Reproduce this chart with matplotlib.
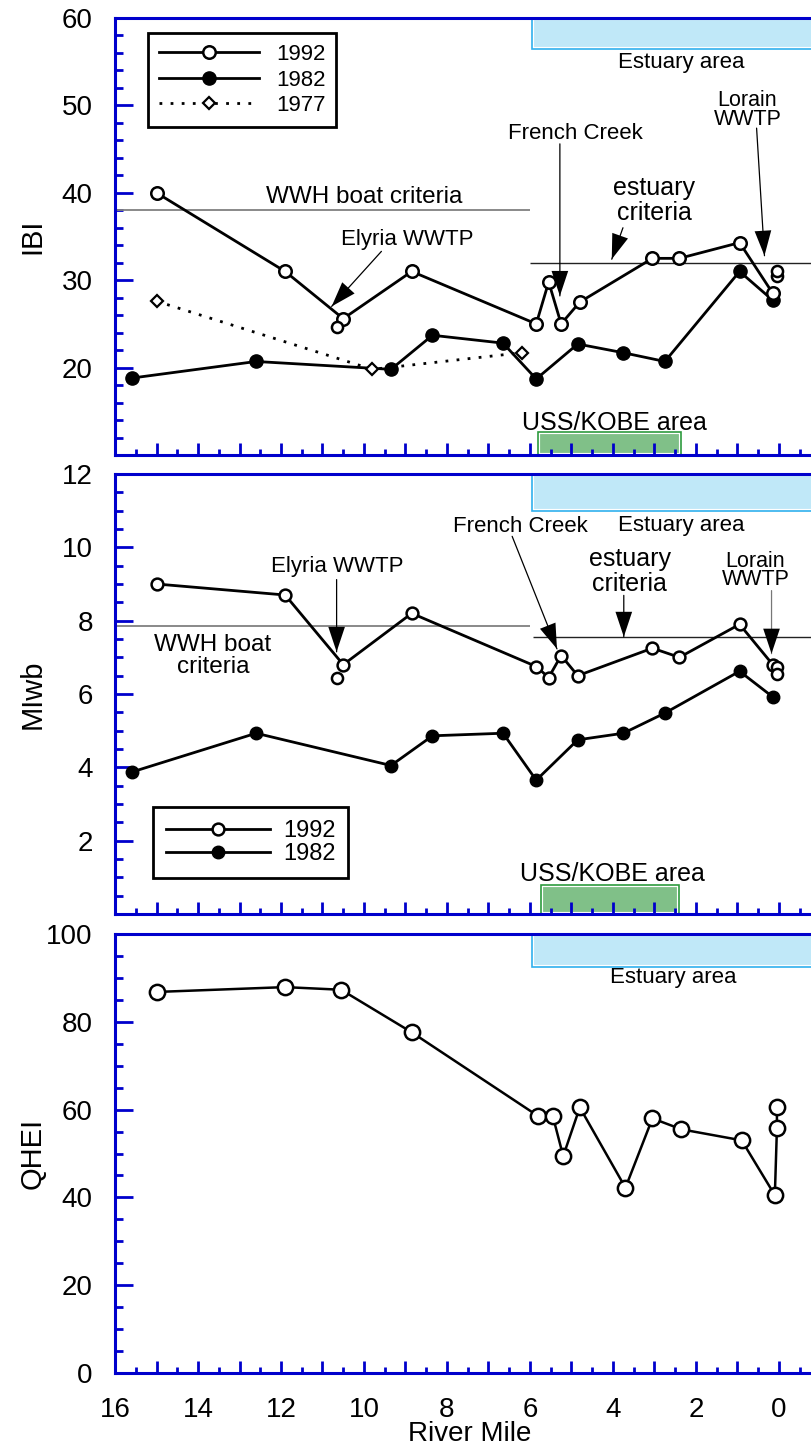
import matplotlib
matplotlib.use("Agg")
import matplotlib.pyplot as plt
from matplotlib.patches import Rectangle
from matplotlib.ticker import MultipleLocator, FuncFormatter

plt.rcParams["font.family"] = ["Liberation Sans", "DejaVu Sans"]

# ---------------- data ----------------
# IBI
ibi92_mile = [15.0, 11.9, 10.5, 8.85, 5.85, 5.55, 5.25, 4.8, 3.05, 2.4, 0.95, 0.15]
ibi92_val = [40.0, 31.0, 25.6, 31.0, 25.0, 29.8, 25.0, 27.5, 32.5, 32.5, 34.3, 28.5]
ibi92_rep_mile = [10.65, 0.05, 0.05]
ibi92_rep_val = [24.6, 30.5, 31.0]
ibi82_mile = [15.6, 12.6, 9.35, 8.35, 6.65, 5.85, 4.85, 3.75, 2.75, 0.95, 0.15]
ibi82_val = [18.8, 20.7, 19.8, 23.7, 22.8, 18.7, 22.7, 21.7, 20.7, 31.0, 27.7]
ibi77_mile = [15.0, 9.8, 6.2]
ibi77_val = [27.6, 19.8, 21.7]

# MIwb
mi92_mile = [15.0, 11.9, 10.5, 8.85, 5.85, 5.55, 5.25, 4.85, 3.05, 2.4, 0.95, 0.15]
mi92_val = [9.0, 8.7, 6.8, 8.2, 6.75, 6.45, 7.05, 6.5, 7.25, 7.0, 7.9, 6.8]
mi92_rep_mile = [10.65, 0.05, 0.05]
mi92_rep_val = [6.45, 6.75, 6.55]
mi82_mile = [15.6, 12.6, 9.35, 8.35, 6.65, 5.85, 4.85, 3.75, 2.75, 0.95, 0.15]
mi82_val = [3.87, 4.93, 4.05, 4.86, 4.93, 3.65, 4.75, 4.93, 5.48, 6.62, 5.92]

# QHEI
qhei_mile = [15.0, 11.9, 10.55, 8.85, 5.8, 5.45, 5.2, 4.8, 3.7, 3.05, 2.35, 0.9, 0.1, 0.05, 0.05]
qhei_val = [86.8, 87.9, 87.3, 77.6, 58.5, 58.5, 49.4, 60.5, 42.2, 58.0, 55.5, 53.0, 40.5, 55.7, 60.6]

# criteria
ibi_wwh_boat = 38.0
ibi_estuary = 32.0
mi_wwh_boat = 7.85
mi_estuary = 7.55

# reaches (river miles)
estuary_reach = (5.95, -1.5)
usskobe_reach_ibi = (5.8, 2.37)
usskobe_reach_mi = (5.73, 2.42)

BLUE = "#0000CC"
XMIN, XMAX = 16, -1.5

fig = plt.figure(figsize=(8.12, 14.52), dpi=100)
W, H = 812, 1452
left = 115 / W
width = (XMIN - XMAX) * 41.5 / W


def axes_px(top, bottom):
    return fig.add_axes([left, (H - bottom) / H, width, (bottom - top) / H])


ax1 = axes_px(18, 455)
ax2 = axes_px(474, 914)
ax3 = axes_px(934, 1373)


def style(ax, ylo, yhi, ymaj, ymin, show_x, show_ylo):
    ax.set_xlim(XMIN, XMAX)
    ax.set_ylim(ylo, yhi)
    ax.yaxis.set_major_locator(MultipleLocator(ymaj))
    ax.yaxis.set_minor_locator(MultipleLocator(ymin))
    ax.yaxis.set_major_formatter(
        FuncFormatter(lambda v, p: "" if (abs(v - ylo) < 1e-9 and not show_ylo)
                      else f"{v:g}"))
    ax.xaxis.set_major_locator(MultipleLocator(1))
    ax.xaxis.set_minor_locator(MultipleLocator(0.5))
    ax.xaxis.set_major_formatter(
        FuncFormatter(lambda v, p: f"{int(round(v))}" if int(round(v)) % 2 == 0 else ""))
    for s in ["left", "bottom", "top"]:
        ax.spines[s].set_color(BLUE)
        ax.spines[s].set_linewidth(2.2)
    ax.spines["right"].set_visible(False)
    ax.tick_params(axis="both", which="both", direction="in", color=BLUE, width=2,
                   top=False, right=False, labelsize=20)
    ax.tick_params(axis="y", which="major", length=13, pad=16)
    ax.tick_params(axis="y", which="minor", length=6)
    ax.tick_params(axis="x", which="major", length=9, pad=17)
    ax.tick_params(axis="x", which="minor", length=4)
    if not show_x:
        ax.tick_params(axis="x", labelbottom=False)


def band(ax, x0, x1, y0, y1, fill, edge):
    ax.add_patch(Rectangle((x1, y0), x0 - x1, y1 - y0, facecolor=fill,
                           edgecolor="white", lw=3, zorder=1))
    ax.add_patch(Rectangle((x1, y0), x0 - x1, y1 - y0, facecolor="none",
                           edgecolor=edge, lw=1.2, zorder=1.1))


EST_FILL, EST_EDGE = "#C0E8F8", "#30B0EE"
USS_FILL, USS_EDGE = "#80C088", "#2E9B3E"
ANN = 16


def arrow(ax, tail, head, shaft="black"):
    ax.annotate("", xy=head, xytext=tail,
                arrowprops=dict(arrowstyle="-", lw=0.9, color=shaft,
                                shrinkA=0, shrinkB=0))
    ax.annotate("", xy=head, xytext=tail,
                arrowprops=dict(arrowstyle="-|>,head_length=0.9,head_width=0.3",
                                mutation_scale=20, lw=0.0, color="black",
                                shrinkA=0, shrinkB=0))


open_kw = dict(marker="o", mfc="white", mec="black", mew=1.8, color="black", lw=2)
open_pt = dict(marker="o", mfc="white", mec="black", mew=1.8, ls="none")
fill_kw = dict(marker="o", mfc="black", mec="black", color="black", lw=2)

# ---------------- IBI ----------------
style(ax1, 10, 60, 10, 2, False, False)
band(ax1, estuary_reach[0], estuary_reach[1], 56.5, 60, EST_FILL, EST_EDGE)
band(ax1, usskobe_reach_ibi[0], usskobe_reach_ibi[1], 10, 12.6, USS_FILL, USS_EDGE)
ax1.hlines(ibi_wwh_boat, XMIN, 6.0, color="#808080", lw=1.3, zorder=2)
ax1.hlines(ibi_estuary, 6.0, XMAX, color="#222222", lw=1.0, zorder=2)
l92, = ax1.plot(ibi92_mile, ibi92_val, ms=9, label="1992", zorder=4, **open_kw)
ax1.plot(ibi92_rep_mile, ibi92_rep_val, ms=8, zorder=4, **open_pt)
l82, = ax1.plot(ibi82_mile, ibi82_val, ms=9.5, label="1982", zorder=3, **fill_kw)
l77, = ax1.plot(ibi77_mile, ibi77_val, color="black", lw=2, ls=(0, (1, 3)),
                marker="D", ms=6.5, mfc="white", mec="black", mew=1.6, label="1977", zorder=3)
ax1.set_ylabel("IBI", fontsize=21)
ax1.yaxis.set_label_coords(-0.094, 0.5)

ax1.text(9.99, 39.5, "WWH boat criteria", fontsize=17.5, ha="center", va="center")
ax1.text(8.96, 34.6, "Elyria WWTP", fontsize=ANN, ha="center", va="center")
arrow(ax1, (9.58, 33.3), (10.78, 27.0))
ax1.text(4.9, 46.8, "French Creek", fontsize=ANN, ha="center", va="center")
arrow(ax1, (5.28, 45.6), (5.28, 28.2))
ax1.text(3.0, 39.1, "estuary\ncriteria", fontsize=18, ha="center", va="center",
         linespacing=1.05)
arrow(ax1, (3.76, 36.0), (4.03, 32.4))
ax1.text(0.76, 49.5, "Lorain\nWWTP", fontsize=15.5, ha="center", va="center",
         linespacing=0.85)
arrow(ax1, (0.54, 47.4), (0.35, 32.8))
ax1.text(2.35, 54.9, "Estuary area", fontsize=16, ha="center", va="center")
ax1.text(3.96, 13.7, "USS/KOBE area", fontsize=18, ha="center", va="center")

leg1 = ax1.legend(handles=[l92, l82, l77], loc="upper left",
                  bbox_to_anchor=(0.0455, 0.9657), borderaxespad=0, fontsize=16,
                  handlelength=4.5, handletextpad=0.75, labelspacing=0.2,
                  borderpad=0.5, fancybox=False, framealpha=1, edgecolor="black")
leg1.get_frame().set_linewidth(2)

# ---------------- MIwb ----------------
style(ax2, 0, 12, 2, 0.5, False, False)
band(ax2, estuary_reach[0], estuary_reach[1], 11.0, 12, EST_FILL, EST_EDGE)
band(ax2, usskobe_reach_mi[0], usskobe_reach_mi[1], 0, 0.8, USS_FILL, USS_EDGE)
ax2.hlines(mi_wwh_boat, XMIN, 6.0, color="#808080", lw=1.3, zorder=2)
ax2.hlines(mi_estuary, 5.93, XMAX, color="#222222", lw=1.0, zorder=2)
m92, = ax2.plot(mi92_mile, mi92_val, ms=8.5, label="1992", zorder=4, **open_kw)
ax2.plot(mi92_rep_mile, mi92_rep_val, ms=8, zorder=4, **open_pt)
m82, = ax2.plot(mi82_mile, mi82_val, ms=9, label="1982", zorder=3, **fill_kw)
ax2.set_ylabel("MIwb", fontsize=21)
ax2.yaxis.set_label_coords(-0.094, 0.5)

ax2.text(13.64, 7.04, "WWH boat\ncriteria", fontsize=17.5, ha="center", va="center",
         linespacing=1.0)
ax2.text(10.64, 9.48, "Elyria WWTP", fontsize=ANN, ha="center", va="center")
arrow(ax2, (10.66, 9.12), (10.66, 7.15))
ax2.text(6.24, 10.58, "French Creek", fontsize=ANN, ha="center", va="center")
arrow(ax2, (6.43, 10.3), (5.35, 7.23))
ax2.text(3.6, 9.35, "estuary\ncriteria", fontsize=18, ha="center", va="center",
         linespacing=1.05)
arrow(ax2, (3.74, 8.69), (3.74, 7.56))
ax2.text(0.57, 9.37, "Lorain\nWWTP", fontsize=15.5, ha="center", va="center",
         linespacing=0.85)
arrow(ax2, (0.18, 8.82), (0.18, 7.1), shaft="#777777")
ax2.text(2.35, 10.6, "Estuary area", fontsize=16, ha="center", va="center")
ax2.text(4.02, 1.1, "USS/KOBE area", fontsize=18, ha="center", va="center")

leg2 = ax2.legend(handles=[m92, m82], loc="upper left",
                  bbox_to_anchor=(0.0523, 0.243), borderaxespad=0, fontsize=17,
                  handlelength=4.4, handletextpad=0.55, labelspacing=0.05,
                  borderpad=0.55, fancybox=False, framealpha=1, edgecolor="black")
leg2.get_frame().set_linewidth(2)

# ---------------- QHEI ----------------
style(ax3, 0, 100, 20, 5, True, True)
band(ax3, estuary_reach[0], estuary_reach[1], 92.5, 100, EST_FILL, EST_EDGE)
ax3.plot(qhei_mile, qhei_val, ms=11, zorder=4, **{**open_kw, "lw": 1.8})
ax3.set_ylabel("QHEI", fontsize=21)
ax3.yaxis.set_label_coords(-0.094, 0.5)
ax3.set_xlabel("River Mile", fontsize=20, labelpad=0)
ax3.xaxis.set_label_coords(0.489, -0.109)
ax3.text(2.55, 90, "Estuary area", fontsize=16, ha="center", va="center")

fig.savefig("out.png", dpi=100)
